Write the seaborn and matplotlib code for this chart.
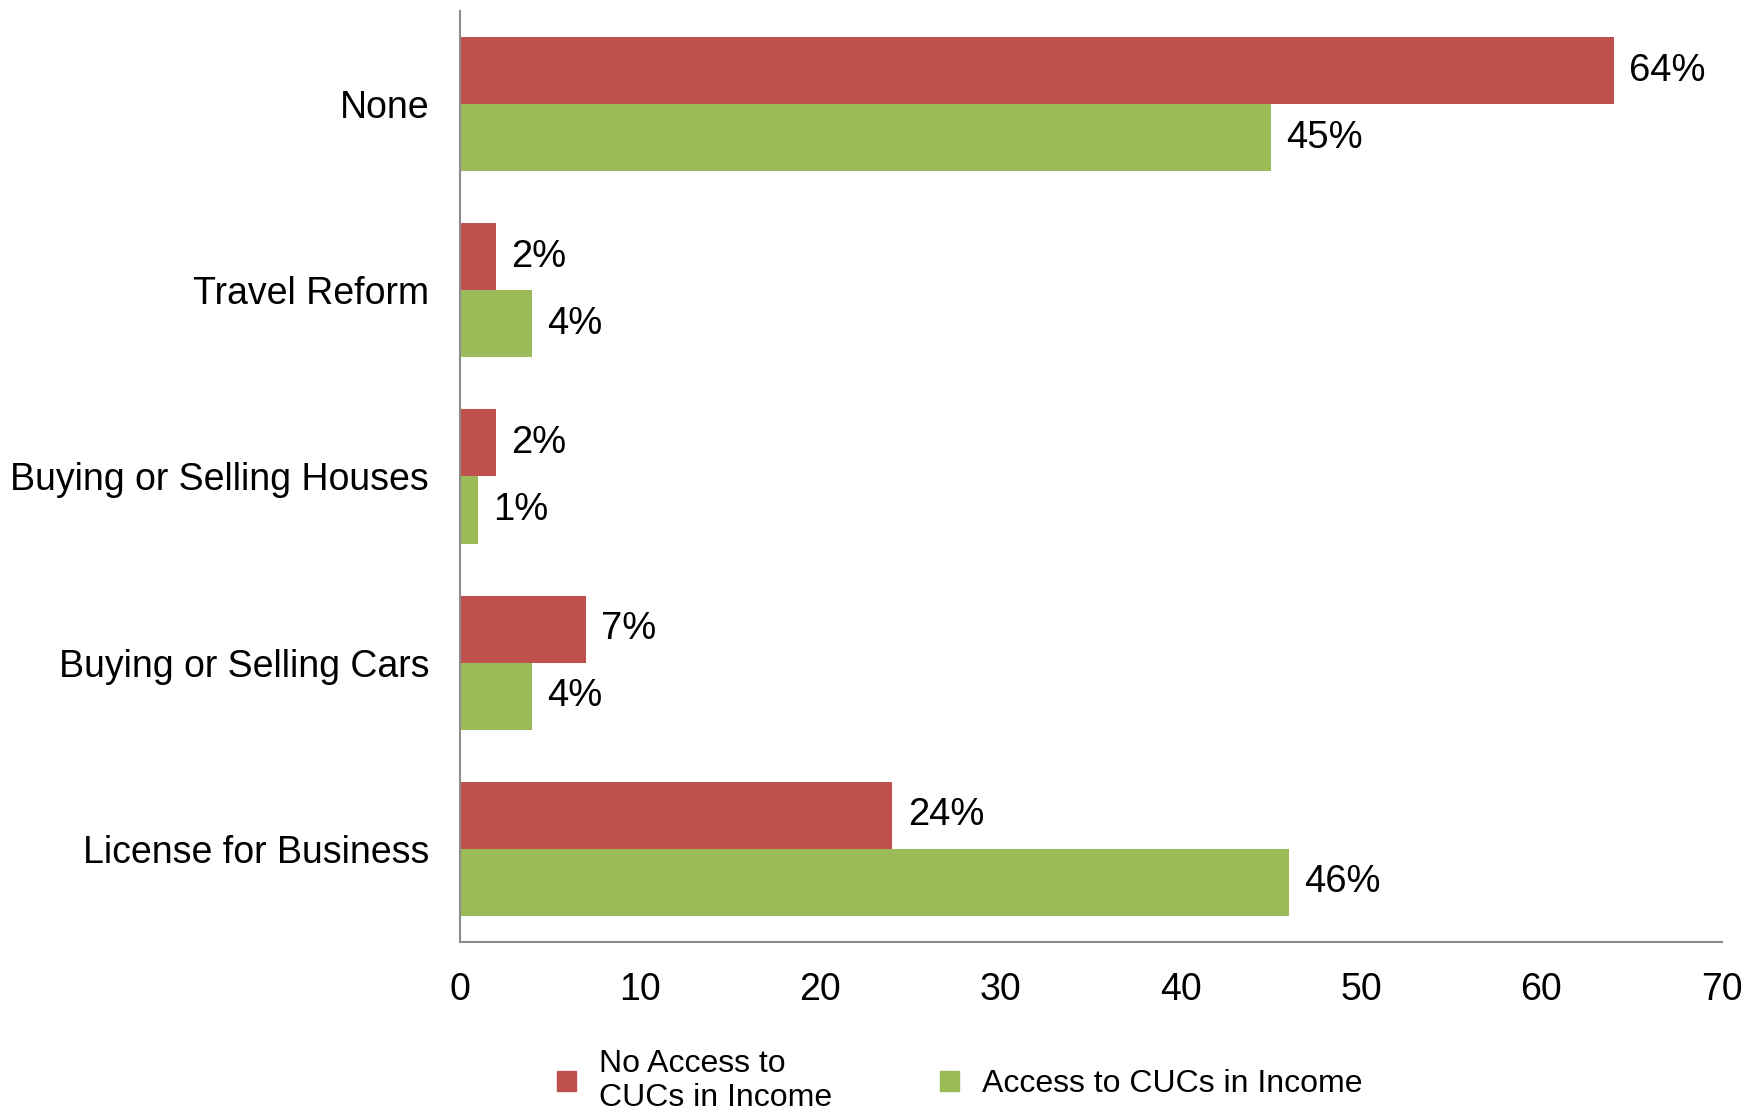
import pandas as pd
import seaborn as sns
import matplotlib
matplotlib.use("Agg")
import matplotlib.pyplot as plt

categories = ["None", "Travel Reform", "Buying or Selling Houses",
              "Buying or Selling Cars", "License for Business"]
no_access = [64, 2, 2, 7, 24]
access = [45, 4, 1, 4, 46]
series = ["No Access to\nCUCs in Income", "Access to CUCs in Income"]
colors = ["#C0504D", "#9BBB59"]

df = pd.DataFrame({
    "category": categories * 2,
    "value": no_access + access,
    "group": [series[0]] * len(categories) + [series[1]] * len(categories),
})

sns.set_style("white")
plt.rcParams["font.family"] = ["Liberation Sans", "DejaVu Sans"]
plt.rcParams["text.color"] = "black"
plt.rcParams["xtick.color"] = "black"
plt.rcParams["ytick.color"] = "black"

fig = plt.figure(figsize=(17.48, 11.12), dpi=100)
ax = fig.add_axes([0.263, 0.153, 0.722, 0.837])

sns.barplot(data=df, x="value", y="category", hue="group", order=categories,
            hue_order=series, palette=colors, width=0.72, orient="h",
            saturation=1, linewidth=0, ax=ax, legend=False)

for cont in ax.containers:
    ax.bar_label(cont, labels=[f"{int(v)}%" for v in cont.datavalues],
                 padding=11, fontsize=27.5, color="black")

ax.set_xlim(0, 70)
ax.set_ylim(4.5, -0.5)
ax.set_xticks(range(0, 71, 10))
ax.set_xlabel("")
ax.set_ylabel("")
ax.tick_params(axis="x", length=0, pad=22, labelsize=27, labelcolor="black")
ax.tick_params(axis="y", length=0, pad=22, labelsize=27, labelcolor="black")
for side in ["top", "right"]:
    ax.spines[side].set_visible(False)
for side in ["left", "bottom"]:
    ax.spines[side].set_color("#8c8c8c")
    ax.spines[side].set_linewidth(1.5)

handles = [plt.Rectangle((0, 0), 1, 1, color=c) for c in colors]
fig.legend(handles, series, loc="center", bbox_to_anchor=(0.549, 0.028),
           ncol=2, frameon=False, fontsize=23, handlelength=0.6,
           handleheight=0.6, handletextpad=0.7, columnspacing=3.4,
           labelspacing=0.3)

fig.savefig("out.png", dpi=100)
